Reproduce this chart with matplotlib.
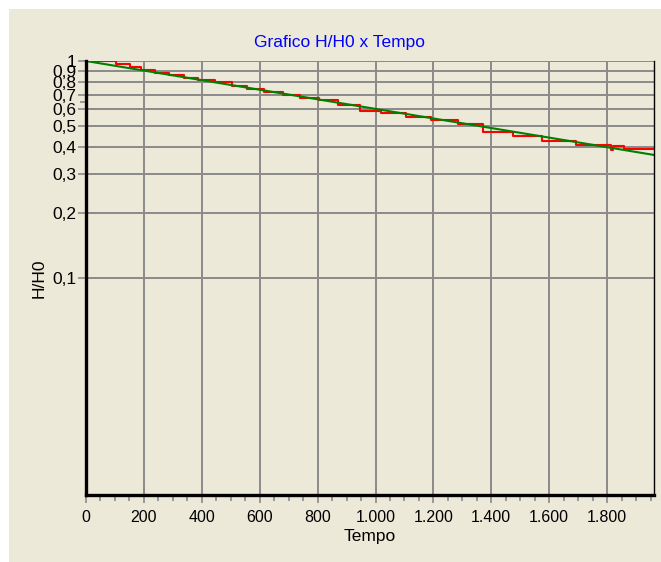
import numpy as np
import matplotlib
matplotlib.use('Agg')
import matplotlib.pyplot as plt
from matplotlib.ticker import FixedLocator, MultipleLocator, NullFormatter

plt.rcParams['font.family'] = ['Liberation Sans', 'DejaVu Sans']

tempo = [0, 103, 153, 190, 237, 285, 337, 387, 447, 503, 557, 615, 680, 738,
         804, 871, 945, 1018, 1107, 1193, 1285, 1371, 1475, 1575, 1694, 1815,
         1822, 1859, 1962]
h_h0 = [1.0, 0.966, 0.938, 0.906, 0.884, 0.859, 0.838, 0.815, 0.800, 0.767,
        0.746, 0.720, 0.695, 0.676, 0.664, 0.626, 0.590, 0.575, 0.554, 0.535,
        0.513, 0.473, 0.449, 0.430, 0.410, 0.390, 0.407, 0.392, 0.392]

# Ajuste exponencial (reta no grafico semi-log)
tempo_fit = [0, 1962]
h_fit = [1.0, 0.369]

y_ticks = [0.1, 0.2, 0.3, 0.4, 0.5, 0.6, 0.7, 0.8, 0.9, 1.0]
y_labels = ['0,1', '0,2', '0,3', '0,4', '0,5', '0,6', '0,7', '0,8', '0,9', '1']
x_ticks = [0, 200, 400, 600, 800, 1000, 1200, 1400, 1600, 1800]
x_labels = ['0', '200', '400', '600', '800', '1.000', '1.200', '1.400',
            '1.600', '1.800']

bege = '#ECE9D8'
cinza = '#8a8a8a'

fig = plt.figure(figsize=(6.61, 5.62), dpi=100)
fig.patch.set_facecolor('white')
fig.add_artist(plt.Rectangle((9/661, 0), 1, 1 - 9/562, transform=fig.transFigure,
                             facecolor=bege, edgecolor='none', zorder=0))

ax = fig.add_axes([86/661, 1 - 495/562, (654 - 86)/661, (495 - 61)/562])
ax.set_facecolor(bege)

ax.step(tempo, h_h0, where='post', color='red', lw=1.5, zorder=3)
ax.plot(tempo_fit, h_fit, color='#008000', lw=1.5, zorder=4)

ax.set_yscale('log')
ax.set_ylim(0.01, 1)
ax.set_xlim(0, 1962)

ax.yaxis.set_major_locator(FixedLocator(y_ticks))
ax.set_yticklabels(y_labels)
ax.yaxis.set_minor_locator(FixedLocator([0.65]))
ax.yaxis.set_minor_formatter(NullFormatter())
ax.set_xticks(x_ticks)
ax.set_xticklabels(x_labels)
ax.xaxis.set_minor_locator(MultipleLocator(50))

ax.tick_params(which='major', length=6, width=1.2, color=cinza,
               labelcolor='black')
ax.tick_params(axis='x', which='major', labelsize=11.5, pad=5)
ax.tick_params(axis='y', which='major', labelsize=12.5, pad=1)
ax.tick_params(which='minor', length=4, width=1.2, color=cinza)

ax.grid(which='major', color=cinza, lw=1.4)
ax.set_axisbelow(True)

ax.spines['top'].set_visible(False)
ax.spines['left'].set_linewidth(2.4)
ax.spines['bottom'].set_linewidth(2.4)
ax.spines['right'].set_linewidth(1.0)
for s in ax.spines.values():
    s.set_zorder(5)

ax.set_xlabel('Tempo', fontsize=12.5, labelpad=3)
ax.set_ylabel('H/H0', fontsize=12.5, labelpad=4)
fig.text(340/661, 1 - 42/562, 'Grafico H/H0 x Tempo', color='blue',
         fontsize=12.5, ha='center', va='center')

fig.savefig('out.png', dpi=100, facecolor=fig.get_facecolor())
